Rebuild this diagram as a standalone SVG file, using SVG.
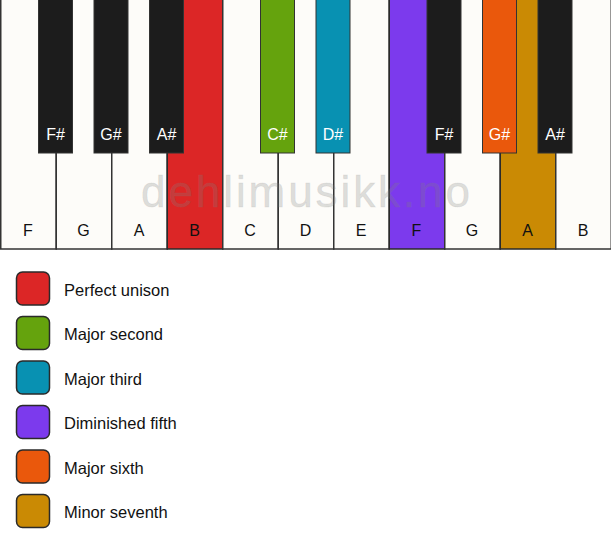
<svg xmlns="http://www.w3.org/2000/svg" width="611" height="550" viewBox="0 0 611 550">
<style>
.w{fill:#fdfcf9;stroke:#333;stroke-width:1.5}
.b{fill:#1c1c1c;stroke:#333;stroke-width:1}
.c{stroke:#2a2a2a;stroke-width:1.5}
.wl{font-family:"Liberation Sans",Arial,sans-serif;font-size:16px;fill:#111;text-anchor:middle}
.bl{font-family:"Liberation Sans",Arial,sans-serif;font-size:16px;fill:#fff;text-anchor:middle}
.sw{stroke:#2a2a2a;stroke-width:1.5}
.lt{font-family:"Liberation Sans",Arial,sans-serif;font-size:16.5px;fill:#111}
.wm{font-family:"Liberation Sans",Arial,sans-serif;font-size:44px;fill:#808080;fill-opacity:0.25;stroke:#808080;stroke-opacity:0.12;stroke-width:1}
</style>
<rect width="611" height="550" fill="#fff"/>
<g id="white-keys">
<g id="key-F1"><rect class="w" x="0.75" y="-1" width="55.5" height="250"/><text class="wl" x="28" y="235.5">F</text></g>
<g id="key-G1"><rect class="w" x="56.25" y="-1" width="55.5" height="250"/><text class="wl" x="83.5" y="235.5">G</text></g>
<g id="key-A1"><rect class="w" x="111.75" y="-1" width="55.5" height="250"/><text class="wl" x="139" y="235.5">A</text></g>
<g id="key-B1"><rect class="c" fill="#dc2626" x="167.25" y="-1" width="55.5" height="250"/><text class="wl" x="194.5" y="235.5">B</text></g>
<g id="key-C"><rect class="w" x="222.75" y="-1" width="55.5" height="250"/><text class="wl" x="250" y="235.5">C</text></g>
<g id="key-D"><rect class="w" x="278.25" y="-1" width="55.5" height="250"/><text class="wl" x="305.5" y="235.5">D</text></g>
<g id="key-E"><rect class="w" x="333.75" y="-1" width="55.5" height="250"/><text class="wl" x="361" y="235.5">E</text></g>
<g id="key-F2"><rect class="c" fill="#7c3aed" x="389.25" y="-1" width="55.5" height="250"/><text class="wl" x="416.5" y="235.5">F</text></g>
<g id="key-G2"><rect class="w" x="444.75" y="-1" width="55.5" height="250"/><text class="wl" x="472" y="235.5">G</text></g>
<g id="key-A2"><rect class="c" fill="#ca8a04" x="500.25" y="-1" width="55.5" height="250"/><text class="wl" x="527.5" y="235.5">A</text></g>
<g id="key-B2"><rect class="w" x="555.75" y="-1" width="55.5" height="250"/><text class="wl" x="583" y="235.5">B</text></g>
</g>
<g id="black-keys">
<g id="key-Fs1"><rect class="b" x="38.5" y="-1" width="34" height="154"/><text class="bl" x="55.5" y="140">F#</text></g>
<g id="key-Gs1"><rect class="b" x="94" y="-1" width="34" height="154"/><text class="bl" x="111" y="140">G#</text></g>
<g id="key-As1"><rect class="b" x="149.5" y="-1" width="34" height="154"/><text class="bl" x="166.5" y="140">A#</text></g>
<g id="key-Cs"><rect class="b" style="fill:#65a30d" x="260.5" y="-1" width="34" height="154"/><text class="bl" x="277.5" y="140">C#</text></g>
<g id="key-Ds"><rect class="b" style="fill:#0891b2" x="316" y="-1" width="34" height="154"/><text class="bl" x="333" y="140">D#</text></g>
<g id="key-Fs2"><rect class="b" x="427" y="-1" width="34" height="154"/><text class="bl" x="444" y="140">F#</text></g>
<g id="key-Gs2"><rect class="b" style="fill:#ea580c" x="482.5" y="-1" width="34" height="154"/><text class="bl" x="499.5" y="140">G#</text></g>
<g id="key-As2"><rect class="b" x="538" y="-1" width="34" height="154"/><text class="bl" x="555" y="140">A#</text></g>
</g>
<text class="wm" x="141" y="207" textLength="329" lengthAdjust="spacing">dehlimusikk.no</text>
<g id="legend">
<g id="leg-unison"><rect class="sw" fill="#dc2626" x="16.5" y="272" width="33" height="33" rx="6"/><text class="lt" x="64" y="295.5">Perfect unison</text></g>
<g id="leg-second"><rect class="sw" fill="#65a30d" x="16.5" y="316.5" width="33" height="33" rx="6"/><text class="lt" x="64" y="340">Major second</text></g>
<g id="leg-third"><rect class="sw" fill="#0891b2" x="16.5" y="361" width="33" height="33" rx="6"/><text class="lt" x="64" y="384.5">Major third</text></g>
<g id="leg-fifth"><rect class="sw" fill="#7c3aed" x="16.5" y="405.5" width="33" height="33" rx="6"/><text class="lt" x="64" y="429">Diminished fifth</text></g>
<g id="leg-sixth"><rect class="sw" fill="#ea580c" x="16.5" y="450" width="33" height="33" rx="6"/><text class="lt" x="64" y="473.5">Major sixth</text></g>
<g id="leg-seventh"><rect class="sw" fill="#ca8a04" x="16.5" y="494.5" width="33" height="33" rx="6"/><text class="lt" x="64" y="518">Minor seventh</text></g>
</g>
</svg>
